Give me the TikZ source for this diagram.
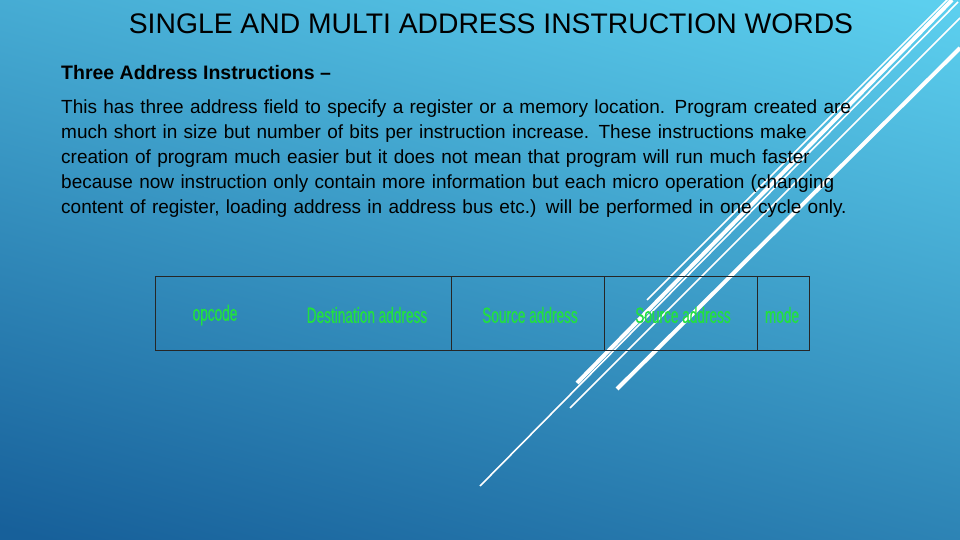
\documentclass[tikz,border=0pt]{standalone}
\usepackage{fontspec}
\setmainfont{Liberation Sans}
\newfontfamily\narrowfont[FakeStretch=0.62,FakeBold=0.6]{Liberation Sans}
\definecolor{bgtop}{HTML}{5CCFEE}
\definecolor{bgbot}{HTML}{17609A}
\definecolor{fieldgreen}{HTML}{22E040}
\newcommand{\jline}[1]{\makebox[854pt][s]{#1}}
\begin{document}
\begin{tikzpicture}[x=1pt,y=-1pt,
  wline/.style={white,line width=1.6pt},
  wthick/.style={white,line width=4pt},
  field/.style={text=fieldgreen,font=\narrowfont\fontsize{22}{22}\selectfont}]
\useasboundingbox (0,0) rectangle (960,540);
\shade[top color=bgtop,bottom color=bgbot,shading angle=-15] (-60,-60) rectangle (1020,600);
% decorative lines
\draw[wline] (480,486) -- (958,2);
\draw[wthick] (577,383) -- (952,0);
\draw[wline] (570,408) -- (960,18);
\draw[wthick] (617,389) -- (960,48);
\draw[wline] (647,300) -- (960,-13);
% title and text
\node[font=\fontsize{28.3}{30}\selectfont] (title) at (491,24) {SINGLE AND MULTI ADDRESS INSTRUCTION WORDS};
\node[anchor=west,inner sep=0pt,font=\bfseries\fontsize{19.5}{22}\selectfont] (sub) at (61,73) {Three Address Instructions –};
\node[anchor=north west,inner sep=0pt,text width=854pt,align=left,font=\fontsize{19}{25}\selectfont] (body) at (61,100)
{\jline{This has three address field to specify a register or a memory location. Program created are}\\
\jline{much short in size but number of bits per instruction increase. These instructions make}\\
\jline{creation of program much easier but it does not mean that program will run much faster}\\
\jline{because now instruction only contain more information but each micro operation (changing}\\
content of register, loading address in address bus etc.) will be performed in one cycle only.};
% instruction format
\draw[black!85,line width=0.8pt] (155,276) rectangle (809,350);
\draw[black!85,line width=0.8pt] (451,276) -- (451,350) (604,276) -- (604,350) (757,276) -- (757,350);
\node[field] (f1) at (215,315) {opcode};
\node[field] (f2) at (367,315) {Destination address};
\node[field] (f3) at (530,315) {Source address};
\node[field] (f4) at (683,315) {Source address};
\node[field] (f5) at (782,315) {mode};
\end{tikzpicture}
\end{document}
